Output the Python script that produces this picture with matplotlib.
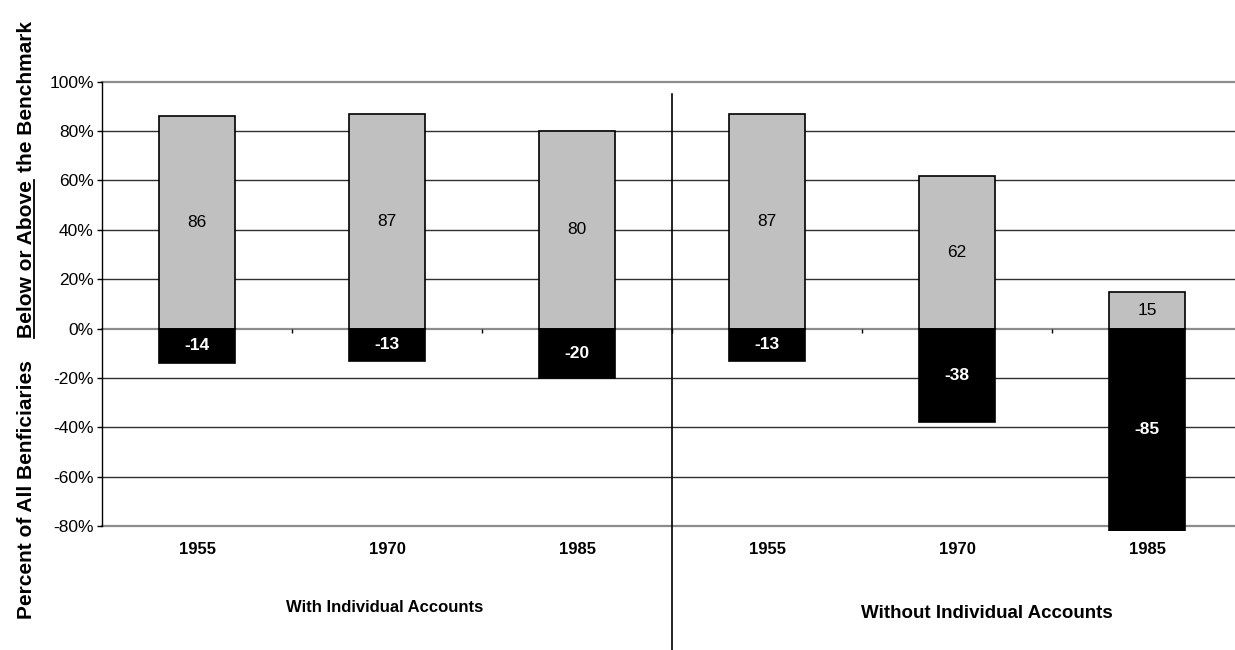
import matplotlib
matplotlib.use('Agg')
import matplotlib.pyplot as plt
import matplotlib.transforms as mtransforms
from matplotlib.lines import Line2D
import numpy as np

# data
years = ['1955', '1970', '1985', '1955', '1970', '1985']
above = [86, 87, 80, 87, 62, 15]
below = [-14, -13, -20, -13, -38, -85]
group_labels = ['With Individual Accounts', 'Without Individual Accounts']
ylabel_left = 'Percent of All Benficiaries'
ylabel_under = 'Below or Above'
ylabel_rest = 'the Benchmark'

plt.rcParams['font.family'] = ['Liberation Sans', 'DejaVu Sans']

W, H = 1235.0, 650.0
fig = plt.figure(figsize=(W / 100, H / 100), dpi=100)
ax = fig.add_axes([102 / W, 1 - 531 / H, 1140 / W, (531 - 81.7) / H])

x = np.arange(len(years))
ymin = -82
ax.set_xlim(-0.5, len(years) - 0.5)
ax.set_ylim(ymin, 100)

# gridlines
for v in range(-80, 101, 20):
    if v in (100, 0, -80):
        ax.axhline(v, color='#8c8c8c', lw=1.6, zorder=1, clip_on=False)
    else:
        ax.axhline(v, color='#303030', lw=1.0, zorder=1, clip_on=False)

bw = 0.405
ax.bar(x, above, width=bw, color='#c0c0c0', edgecolor='black', lw=1.2, zorder=3)
ax.bar(x, below, width=bw, color='black', edgecolor='black', lw=1.2, zorder=3)

for xi, a, b in zip(x, above, below):
    ax.text(xi, a / 2, str(a), ha='center', va='center', fontsize=12.5,
            color='black', zorder=4)
    ax.text(xi, max(b, ymin) / 2, str(b), ha='center', va='center', fontsize=12.5,
            fontweight='bold', color='white', zorder=4)

# small category ticks on the zero line
ax.vlines(np.arange(0.5, len(years) - 1, 1), 0, -1.6, color='black', lw=1, zorder=2)

for s in ['top', 'right', 'bottom']:
    ax.spines[s].set_visible(False)
ax.spines['left'].set_bounds(-80, 100)
ax.spines['left'].set_linewidth(1)

yt = list(range(-80, 101, 20))
ax.set_yticks(yt, [str(v) + '%' for v in yt])
ax.tick_params(axis='y', length=3.5, width=1, direction='out', labelsize=12.5, pad=2.5)
ax.set_xticks(x, years)
ax.tick_params(axis='x', length=0, labelsize=12, pad=8)
for lab in ax.get_xticklabels():
    lab.set_fontweight('bold')

# divider between the two groups
trans = mtransforms.blended_transform_factory(ax.transData, fig.transFigure)
fig.add_artist(Line2D([2.5, 2.5], [0, 1 - 94 / H], transform=trans, color='black', lw=1.2))

# group captions
fig.text(385 / W, 1 - 608 / H, group_labels[0], ha='center', va='center',
         fontsize=12, fontweight='bold')
fig.text(987 / W, 1 - 613 / H, group_labels[1], ha='center', va='center',
         fontsize=13.5, fontweight='bold')

# y axis caption, in pieces so part can be underlined
fig.text(27 / W, 1 - 489.5 / H, ylabel_left, rotation=90, ha='center', va='center',
         fontsize=15, fontweight='bold')
t1 = fig.text(27 / W, 1 - 338 / H, ylabel_under, rotation=90, ha='center', va='bottom',
              fontsize=15, fontweight='bold')
r = fig.canvas.get_renderer()
bb = t1.get_window_extent(r)
fig.text(27 / W, (bb.y1 + 8) / H, ylabel_rest, rotation=90, ha='center', va='bottom',
         fontsize=15, fontweight='bold')
ux = bb.x1 - 3
fig.add_artist(Line2D([ux, ux], [bb.y0, bb.y1], transform=None, color='black', lw=1.3))

plt.savefig('out.png', dpi=100)
